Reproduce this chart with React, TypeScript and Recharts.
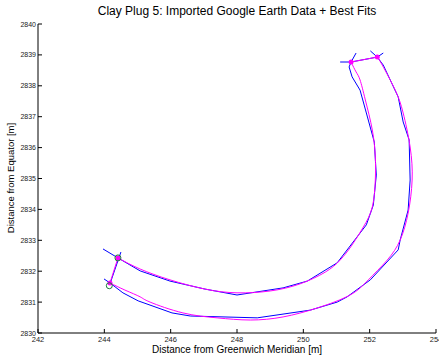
import React from 'react';
import { ComposedChart, Line, Scatter, XAxis, YAxis } from 'recharts';

const xTicks = [242, 244, 246, 248, 250, 252, 254];
const yTicks = [2830, 2831, 2832, 2833, 2834, 2835, 2836, 2837, 2838, 2839, 2840];

// digitised Google Earth edges (blue)
const innerData = [
  { x: 243.96, y: 2832.72 }, { x: 244.41, y: 2832.43 }, { x: 245.08, y: 2832.01 },
  { x: 245.98, y: 2831.68 }, { x: 247.04, y: 2831.42 }, { x: 248.0, y: 2831.23 },
  { x: 249.39, y: 2831.46 }, { x: 250.12, y: 2831.68 }, { x: 251.02, y: 2832.27 },
  { x: 251.9, y: 2833.5 }, { x: 252.11, y: 2834.14 }, { x: 252.2, y: 2835.11 },
  { x: 252.14, y: 2836.18 }, { x: 251.9, y: 2837.12 }, { x: 251.71, y: 2837.86 },
  { x: 251.47, y: 2838.29 }, { x: 251.38, y: 2838.61 }, { x: 251.44, y: 2838.77 },
];

const outerData = [
  { x: 243.99, y: 2831.75 }, { x: 244.17, y: 2831.62 }, { x: 244.56, y: 2831.3 },
  { x: 245.02, y: 2831.04 }, { x: 246.04, y: 2830.65 }, { x: 246.59, y: 2830.55 },
  { x: 248.61, y: 2830.49 }, { x: 250.21, y: 2830.74 }, { x: 251.02, y: 2831.0 },
  { x: 251.32, y: 2831.17 }, { x: 252.02, y: 2831.72 }, { x: 252.86, y: 2832.69 },
  { x: 252.92, y: 2833.01 }, { x: 253.16, y: 2833.98 }, { x: 253.22, y: 2834.95 },
  { x: 253.19, y: 2836.25 }, { x: 253.01, y: 2836.83 }, { x: 252.86, y: 2837.64 },
  { x: 252.62, y: 2838.19 }, { x: 252.41, y: 2838.67 }, { x: 252.23, y: 2838.93 },
];

const leftCapData = [{ x: 244.5, y: 2832.62 }, { x: 244.17, y: 2831.59 }];
const topCapData = [
  { x: 251.11, y: 2838.77 }, { x: 251.44, y: 2838.77 },
  { x: 252.23, y: 2838.93 }, { x: 252.41, y: 2839.06 },
];
const topStubA = [{ x: 251.44, y: 2838.77 }, { x: 251.59, y: 2839.06 }];
const topStubB = [{ x: 252.23, y: 2838.93 }, { x: 252.02, y: 2839.13 }];

// best fits (magenta)
const innerFit = [
  { x: 244.41, y: 2832.43 }, { x: 245.08, y: 2832.07 }, { x: 245.98, y: 2831.72 },
  { x: 247.04, y: 2831.42 }, { x: 248.0, y: 2831.3 }, { x: 249.0, y: 2831.36 },
  { x: 249.9, y: 2831.59 }, { x: 250.66, y: 2831.97 }, { x: 251.11, y: 2832.36 },
  { x: 251.47, y: 2832.85 }, { x: 251.81, y: 2833.43 }, { x: 252.08, y: 2834.08 },
  { x: 252.17, y: 2834.95 }, { x: 252.17, y: 2835.7 }, { x: 252.08, y: 2836.57 },
  { x: 251.87, y: 2837.54 }, { x: 251.71, y: 2838.19 }, { x: 251.59, y: 2838.45 },
  { x: 251.44, y: 2838.77 },
];

const outerFit = [
  { x: 244.17, y: 2831.62 }, { x: 244.62, y: 2831.39 }, { x: 245.08, y: 2831.17 },
  { x: 245.38, y: 2831.0 }, { x: 246.37, y: 2830.65 }, { x: 247.4, y: 2830.49 },
  { x: 248.4, y: 2830.42 }, { x: 249.39, y: 2830.52 }, { x: 250.42, y: 2830.81 },
  { x: 251.41, y: 2831.23 }, { x: 251.96, y: 2831.72 }, { x: 252.53, y: 2832.36 },
  { x: 252.92, y: 2833.01 }, { x: 253.16, y: 2833.88 }, { x: 253.28, y: 2834.95 },
  { x: 253.22, y: 2836.02 }, { x: 253.01, y: 2837.12 }, { x: 252.77, y: 2837.86 },
  { x: 252.38, y: 2838.67 }, { x: 252.23, y: 2838.93 },
];

const leftCapFit = [{ x: 244.41, y: 2832.43 }, { x: 244.17, y: 2831.62 }];
const topCapFit = [{ x: 251.44, y: 2838.77 }, { x: 252.23, y: 2838.93 }];

const cornerPoints = [
  { x: 244.41, y: 2832.43 }, { x: 244.17, y: 2831.62 },
  { x: 251.44, y: 2838.77 }, { x: 252.23, y: 2838.93 },
];
const greenPoints = [{ x: 244.41, y: 2832.43 }, { x: 244.15, y: 2831.53 }];

const FONT = 'Liberation Sans, Arial, Helvetica, sans-serif';

const BottomTick = (props: any) => {
  const { x, y, payload } = props;
  return (
    <g>
      <line x1={x} y1={y} x2={x} y2={y - 4} stroke="#000" />
      <text x={x} y={y + 9} textAnchor="middle" fontSize={7.5} fontFamily={FONT} fill="#222">
        {payload.value}
      </text>
    </g>
  );
};

const LeftTick = (props: any) => {
  const { x, y, payload } = props;
  return (
    <g>
      <line x1={x} y1={y} x2={x + 4} y2={y} stroke="#000" />
      <text x={x - 2} y={y + 2.5} textAnchor="end" fontSize={7} fontFamily={FONT} fill="#222">
        {payload.value}
      </text>
    </g>
  );
};

const TopTick = (props: any) => {
  const { x, y } = props;
  return <line x1={x} y1={y} x2={x} y2={y + 4} stroke="#000" />;
};

const RightTick = (props: any) => {
  const { x, y } = props;
  return <line x1={x} y1={y} x2={x - 4} y2={y} stroke="#000" />;
};

const GreenRing = (props: any) => {
  const { cx, cy } = props;
  return <circle cx={cx} cy={cy} r={3} fill="none" stroke="#1e7a3c" strokeWidth={1} />;
};

const MagentaDot = (props: any) => {
  const { cx, cy } = props;
  return <circle cx={cx} cy={cy} r={2.5} fill="#ff00ff" />;
};

export default function App() {
  const blue = '#0000ff';
  const magenta = '#ff00ff';
  return (
    <div style={{ position: 'absolute', left: 0, top: 0, width: 439, height: 360, background: '#fff', fontFamily: FONT }}>
      <div style={{ position: 'absolute', left: 38, width: 398, top: 4, textAlign: 'center', fontSize: 12, color: '#000' }}>
        Clay Plug 5: Imported Google Earth Data + Best Fits
      </div>
      <div
        style={{
          position: 'absolute', left: 11, top: 178, fontSize: 9.5, lineHeight: '10px', color: '#000', whiteSpace: 'nowrap',
          transform: 'translate(-50%, -50%) rotate(-90deg)',
        }}
      >
        Distance from Equator [m]
      </div>
      <div style={{ position: 'absolute', left: 38, width: 398, top: 345, lineHeight: '10px', textAlign: 'center', fontSize: 10, color: '#000' }}>
        Distance from Greenwich Meridian [m]
      </div>
      <ComposedChart width={439} height={360} margin={{ top: 24, right: 3, bottom: 0, left: 0 }}>
        <XAxis
          xAxisId="b" type="number" dataKey="x" domain={[242, 254]} ticks={xTicks} allowDataOverflow
          height={27} tickSize={0} tickMargin={0} tickLine={false} tick={<BottomTick />}
          axisLine={{ stroke: '#000' }} interval={0}
        />
        <XAxis
          xAxisId="t" orientation="top" type="number" dataKey="x" domain={[242, 254]} ticks={xTicks} allowDataOverflow
          height={0} tickSize={0} tickMargin={0} tickLine={false} tick={<TopTick />}
          axisLine={{ stroke: '#000' }} interval={0}
        />
        <YAxis
          yAxisId="l" type="number" dataKey="y" domain={[2830, 2840]} ticks={yTicks} allowDataOverflow
          width={38} tickSize={0} tickMargin={0} tickLine={false} tick={<LeftTick />}
          axisLine={{ stroke: '#000' }} interval={0}
        />
        <YAxis
          yAxisId="r" orientation="right" type="number" dataKey="y" domain={[2830, 2840]} ticks={yTicks} allowDataOverflow
          width={0} tickSize={0} tickMargin={0} tickLine={false} tick={<RightTick />}
          axisLine={{ stroke: '#000' }} interval={0}
        />

        <Line xAxisId="b" yAxisId="l" data={innerData} dataKey="y" type="linear" stroke={blue} strokeWidth={1} dot={false} isAnimationActive={false} />
        <Line xAxisId="b" yAxisId="l" data={outerData} dataKey="y" type="linear" stroke={blue} strokeWidth={1} dot={false} isAnimationActive={false} />
        <Line xAxisId="b" yAxisId="l" data={leftCapData} dataKey="y" type="linear" stroke={blue} strokeWidth={1} dot={false} isAnimationActive={false} />
        <Line xAxisId="b" yAxisId="l" data={topCapData} dataKey="y" type="linear" stroke={blue} strokeWidth={1} dot={false} isAnimationActive={false} />
        <Line xAxisId="b" yAxisId="l" data={topStubA} dataKey="y" type="linear" stroke={blue} strokeWidth={1} dot={false} isAnimationActive={false} />
        <Line xAxisId="b" yAxisId="l" data={topStubB} dataKey="y" type="linear" stroke={blue} strokeWidth={1} dot={false} isAnimationActive={false} />

        <Line xAxisId="b" yAxisId="l" data={innerFit} dataKey="y" type="natural" stroke={magenta} strokeWidth={1} dot={false} isAnimationActive={false} />
        <Line xAxisId="b" yAxisId="l" data={outerFit} dataKey="y" type="natural" stroke={magenta} strokeWidth={1} dot={false} isAnimationActive={false} />
        <Line xAxisId="b" yAxisId="l" data={leftCapFit} dataKey="y" type="linear" stroke={magenta} strokeWidth={1} dot={false} isAnimationActive={false} />
        <Line xAxisId="b" yAxisId="l" data={topCapFit} dataKey="y" type="linear" stroke={magenta} strokeWidth={1} dot={false} isAnimationActive={false} />

        <Scatter xAxisId="b" yAxisId="l" data={cornerPoints} dataKey="y" shape={<MagentaDot />} isAnimationActive={false} />
        <Scatter xAxisId="b" yAxisId="l" data={greenPoints} dataKey="y" shape={<GreenRing />} isAnimationActive={false} />
      </ComposedChart>
    </div>
  );
}
